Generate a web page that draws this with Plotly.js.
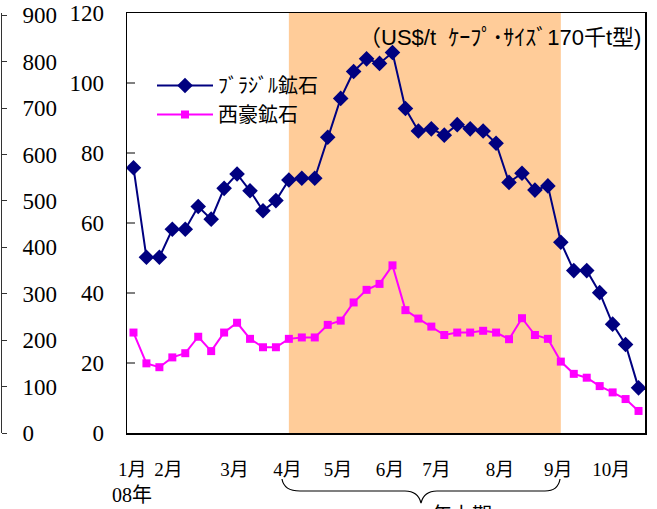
<!DOCTYPE html>
<html><head><meta charset="utf-8">
<script src="https://cdn.plot.ly/plotly-3.0.1.min.js"></script>
<style>html,body{margin:0;padding:0;background:#fff}#chart{width:657px;height:509px}</style>
</head><body><div id="chart"></div>
<script>
// data (index of weekly observation, Jan–Oct 2008)
const brazil = [75.8,50.2,50.2,58.2,58.2,64.7,61.1,69.9,74.0,69.2,63.5,66.4,72.3,72.8,72.8,84.5,95.6,103.3,106.9,105.6,108.7,92.7,86.3,86.9,85.1,88.1,86.9,86.3,82.8,71.6,74.2,69.4,70.6,54.5,46.4,46.4,40.1,31.1,25.3,12.9];
const westAus = [28.7,19.9,18.8,21.6,22.8,27.5,23.4,28.7,31.5,26.9,24.5,24.5,26.9,27.3,27.3,30.9,32.1,37.3,40.9,42.6,47.9,35.1,32.7,30.4,28.0,28.7,28.7,29.2,28.7,26.8,32.8,28.0,26.9,20.4,16.9,15.8,13.4,11.6,9.7,6.3];
const weeks = brazil.map((_, i) => i);
const monthPos = [-0.1, 2.7, 7.8, 11.9, 15.8, 19.8, 23.4, 28.3, 32.8, 36.9];
const monthLabels = ['1月','2月','3月','4月','5月','6月','7月','8月','9月','10月'];
const shadeStart = 12, shadeEnd = 33;
const names = ['ﾌﾞﾗｼﾞﾙ鉱石','西豪鉱石'];
const unitText = '（US$/t  ｹｰﾌﾟ･ｻｲｽﾞ170千t型)';

const W = 657, H = 509, T = 13, B = 433;
const px = x => x / W;
const py = y => (B - y) / (B - T);
const serif = 'Liberation Serif, Noto Sans CJK JP, serif';
const sans = 'Liberation Sans, Noto Sans CJK JP, sans-serif';

const brace = [[282,479],[284,491],[300,491],[405,491],[418,491],[421,503],[424,491],[437,491],[545,491],[558,491],[560,479]].map(p=>[px(p[0]),py(p[1])]);
const f = p => p[0].toFixed(4)+','+p[1].toFixed(4);
const bracePath = 'M'+f(brace[0])+' Q'+f(brace[1])+' '+f(brace[2])+' L'+f(brace[3])+' Q'+f(brace[4])+' '+f(brace[5])+' Q'+f(brace[6])+' '+f(brace[7])+' L'+f(brace[8])+' Q'+f(brace[9])+' '+f(brace[10]);

const traces = [
  {x: weeks, y: brazil, name: names[0], mode: 'lines+markers', line: {color: '#000080', width: 2}, marker: {symbol: 'diamond', size: 12, color: '#000080'}},
  {x: weeks, y: westAus, name: names[1], mode: 'lines+markers', line: {color: '#FF00FF', width: 2}, marker: {symbol: 'square', size: 8, color: '#FF00FF'}}
];

const layout = {
  width: W, height: H,
  margin: {l: 0, r: 0, t: T, b: H - B, pad: 0},
  paper_bgcolor: '#fff', plot_bgcolor: 'rgba(0,0,0,0)',
  showlegend: true,
  legend: {x: px(152), y: py(66), xanchor: 'left', yanchor: 'top', bgcolor: 'rgba(0,0,0,0)', font: {family: sans, size: 20, color: '#000'}, itemwidth: 56, tracegroupgap: 0},
  xaxis: {domain: [px(127), px(645)], range: [-0.5, 39.5], showgrid: false, zeroline: false,
    showline: true, linecolor: '#000', linewidth: 1.5, mirror: true, ticks: '',
    tickmode: 'array', tickvals: monthPos, ticktext: monthLabels, ticklabelstandoff: 19,
    tickfont: {family: serif, size: 19, color: '#000'}},
  yaxis: {domain: [0, 1], range: [0, 120], dtick: 20, showgrid: false, zeroline: false,
    showline: true, linecolor: '#000', linewidth: 1.5, mirror: true,
    ticks: 'inside', ticklen: 8, tickcolor: '#808080', tickwidth: 1.5, ticklabelstandoff: 17,
    tickfont: {family: serif, size: 23, color: '#000'}},
  yaxis2: {overlaying: 'y', anchor: 'free', position: px(1), side: 'right', range: [0, 905], dtick: 100,
    showgrid: false, zeroline: false, showline: true, linecolor: '#333', linewidth: 1,
    ticks: 'outside', ticklen: 5, tickcolor: '#333', ticklabelstandoff: 11,
    tickfont: {family: serif, size: 23, color: '#000'}},
  shapes: [
    {type: 'rect', xref: 'x', yref: 'paper', x0: shadeStart, x1: shadeEnd, y0: 0, y1: 1, fillcolor: '#FFCC99', line: {width: 0}, layer: 'below'},
    {type: 'path', xref: 'paper', yref: 'paper', path: bracePath, line: {color: '#000', width: 1.2}}
  ],
  annotations: [
    {xref: 'paper', yref: 'paper', x: px(643), y: py(37), xanchor: 'right', yanchor: 'middle', text: unitText, showarrow: false, font: {family: sans, size: 22, color: '#000'}},
    {xref: 'paper', yref: 'paper', x: px(132), y: py(495), xanchor: 'center', yanchor: 'middle', text: '08年', showarrow: false, font: {family: serif, size: 20, color: '#000'}},
    {xref: 'paper', yref: 'paper', x: px(430), y: py(502), xanchor: 'left', yanchor: 'top', text: '年上期', showarrow: false, font: {family: sans, size: 20, color: '#000'}}
  ]
};
traces.push({x: [0], y: [0], yaxis: 'y2', mode: 'markers', marker: {opacity: 0}, showlegend: false, hoverinfo: 'skip'});
Plotly.newPlot('chart', traces, layout, {displayModeBar: false, staticPlot: true});
</script></body></html>
